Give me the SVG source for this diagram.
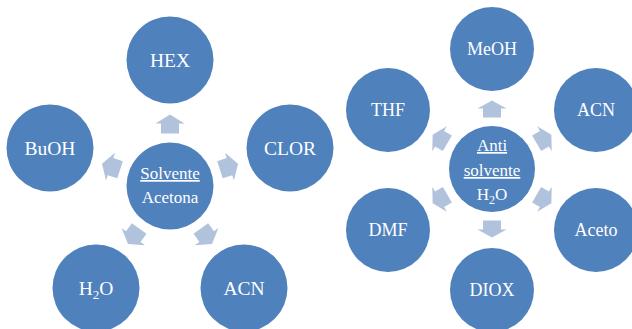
<svg xmlns="http://www.w3.org/2000/svg" xmlns:xlink="http://www.w3.org/1999/xlink" width="632" height="329" viewBox="0 0 632 329">
<style>
.n{fill:#4f81bd}
.a{fill:#b1c2dd}
.t{font-family:"Liberation Serif","Times New Roman",serif;fill:#fff;text-anchor:middle}
.l{font-size:19.5px}
.r{font-size:18px}
.c{font-size:17px}
.u{text-decoration:underline}
</style>
<defs>
<path id="arL" d="M0,-9.5 L14.5,-0.5 L9,-0.5 L9,9.5 L-9,9.5 L-9,-0.5 L-14.5,-0.5 Z"/>
<path id="arR" d="M0,-8.5 L14.5,-0.5 L9,-0.5 L9,8.5 L-9,8.5 L-9,-0.5 L-14.5,-0.5 Z"/>
</defs>
<rect width="632" height="329" fill="#fff"/>
<g id="connectors" class="a">
<use xlink:href="#arL" transform="translate(170,124)"/>
<use xlink:href="#arL" transform="translate(229,166.8) rotate(72)"/>
<use xlink:href="#arL" transform="translate(206.4,236.2) rotate(144)"/>
<use xlink:href="#arL" transform="translate(133.6,236.2) rotate(216)"/>
<use xlink:href="#arL" transform="translate(111,166.8) rotate(288)"/>
<use xlink:href="#arR" transform="translate(492,109)"/>
<use xlink:href="#arR" transform="translate(544,139) rotate(60)"/>
<use xlink:href="#arR" transform="translate(544,199) rotate(120)"/>
<use xlink:href="#arR" transform="translate(492,229) rotate(180)"/>
<use xlink:href="#arR" transform="translate(440,199) rotate(240)"/>
<use xlink:href="#arR" transform="translate(440,139) rotate(300)"/>
</g>
<g id="solvente">
<circle class="n" cx="170" cy="186" r="43.5"/>
<text class="t c" x="170" y="179"><tspan class="u">Solvente</tspan></text>
<text class="t c" x="170" y="203">Acetona</text>
</g>
<g id="hex"><circle class="n" cx="170" cy="60" r="43.5"/><text class="t l" x="170" y="66.5">HEX</text></g>
<g id="clor"><circle class="n" cx="290" cy="148" r="43.5"/><text class="t l" x="290" y="154.5">CLOR</text></g>
<g id="acn-l"><circle class="n" cx="244" cy="288" r="43.5"/><text class="t l" x="244" y="294.5">ACN</text></g>
<g id="h2o-l"><circle class="n" cx="96" cy="288" r="43.5"/><text class="t l" x="96" y="294.5">H<tspan font-size="13" dy="4">2</tspan><tspan dy="-4">O</tspan></text></g>
<g id="buoh"><circle class="n" cx="50" cy="148" r="43.5"/><text class="t l" x="50" y="154.5">BuOH</text></g>
<g id="antisolvente">
<circle class="n" cx="492" cy="169" r="43"/>
<text class="t c" x="492" y="151"><tspan class="u">Anti</tspan></text>
<text class="t c" x="492" y="176"><tspan class="u">solvente</tspan></text>
<text class="t c" x="492" y="200">H<tspan font-size="12" dy="4">2</tspan><tspan dy="-4">O</tspan></text>
</g>
<g id="meoh"><circle class="n" cx="492" cy="49" r="42"/><text class="t r" x="492" y="55">MeOH</text></g>
<g id="acn-r"><circle class="n" cx="596" cy="110" r="42"/><text class="t r" x="596" y="116">ACN</text></g>
<g id="aceto"><circle class="n" cx="596" cy="230" r="42"/><text class="t r" x="596" y="236">Aceto</text></g>
<g id="diox"><circle class="n" cx="492" cy="290" r="42"/><text class="t r" x="492" y="296">DIOX</text></g>
<g id="dmf"><circle class="n" cx="388" cy="230" r="42"/><text class="t r" x="388" y="236">DMF</text></g>
<g id="thf"><circle class="n" cx="388" cy="110" r="42"/><text class="t r" x="388" y="116">THF</text></g>
</svg>
